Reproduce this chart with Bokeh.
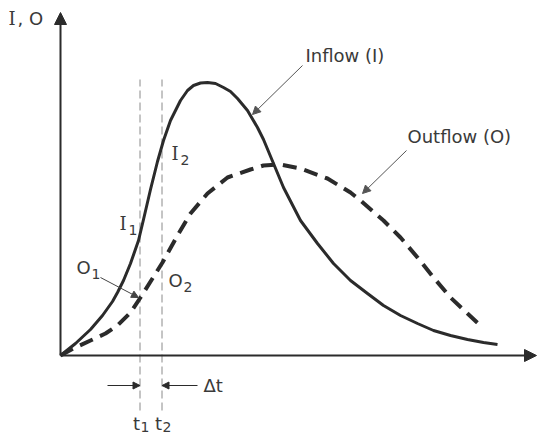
from bokeh.plotting import figure
from bokeh.models import Range1d, Arrow, NormalHead, Label
from bokeh.embed import file_html
from bokeh.resources import INLINE

# Hydrograph data (time units, flow units)
inflow_t = [0, 15, 30, 42, 52, 57, 63, 70, 78, 83, 90, 97, 103, 110, 120, 127, 133,
            140, 147, 155, 163, 170, 177, 187, 197, 203, 213, 223, 240, 257, 273,
            290, 307, 323, 340, 357, 373, 390, 407, 423, 437]
inflow_q = [0, 12, 26, 40, 54, 63, 75, 92, 115, 136, 166, 194, 215, 235, 255, 265, 270,
            272.5, 273, 272, 268, 264, 257, 245, 228, 216, 192, 168, 135, 112, 92,
            75, 62, 50, 40, 32, 25, 20, 16, 13, 11]

outflow_t = [0, 13, 30, 45, 57, 70, 80, 102, 117, 130, 147, 167, 190, 203, 220, 240,
             267, 290, 300, 323, 340, 357, 373, 390, 407, 422]
outflow_q = [0, 7, 15, 22, 30, 43, 58, 93, 120, 142, 162, 178, 186, 190, 191, 187,
             177, 163, 155, 135, 118, 98, 78, 58, 42, 28]

time_marks = [79.5, 101.5]          # t1, t2
mark_labels = ["1", "2"]

INK = "#2b2b2b"
TXT = "#3a3a3a"
FONT = "DejaVu Sans"
SERIF = "DejaVu Serif"

p = figure(width=538, height=439, output_backend="svg", toolbar_location=None,
           x_range=Range1d(-60, 478), y_range=Range1d(-84, 355),
           x_axis_location=None, y_axis_location=None,
           min_border=0, min_border_left=0, min_border_right=0,
           min_border_top=0, min_border_bottom=0)
p.grid.visible = False
p.outline_line_color = None
p.background_fill_color = "white"
p.border_fill_color = "white"

# axes with arrowheads
p.add_layout(Arrow(end=NormalHead(size=12, fill_color=INK, line_color=INK),
                   x_start=0, y_start=0, x_end=0, y_end=343,
                   line_color=INK, line_width=2))
p.add_layout(Arrow(end=NormalHead(size=12, fill_color=INK, line_color=INK),
                   x_start=0, y_start=0, x_end=476, y_end=0,
                   line_color=INK, line_width=2))

# time marks (thin dashed verticals)
for tm in time_marks:
    p.line([tm, tm], [-55, 276], line_color="#8a8a8a", line_width=1, line_dash="8 4")

# curves
p.line(inflow_t, inflow_q, line_color=INK, line_width=3, line_join="round")
p.line(outflow_t, outflow_q, line_color=INK, line_width=4, line_dash="14 8")

def txt(x, y, s, size=18, align="left", font=FONT):
    p.add_layout(Label(x=x, y=y, text=s, text_font=font, text_font_size=f"{size}px",
                       text_color=TXT, text_align=align, text_baseline="middle"))

# axis label
txt(-52, 337, "I", font=SERIF)
txt(-43, 337, ", O")

# leader annotations
p.add_layout(Arrow(end=NormalHead(size=8, fill_color="#555", line_color="#555"),
                   x_start=242, y_start=290, x_end=192, y_end=241,
                   line_color="#555", line_width=1))
txt(245, 300, "Inflow (I)")
p.add_layout(Arrow(end=NormalHead(size=8, fill_color="#555", line_color="#555"),
                   x_start=346, y_start=205, x_end=302, y_end=162,
                   line_color="#555", line_width=1))
txt(347, 219, "Outflow (O)")

# point labels with subscripts
def sub_label(x, y, main, sub):
    if main == "I":
        txt(x, y, main, 18, font=SERIF)
        txt(x + 9, y - 6, sub, 14)
    else:
        txt(x, y, main, 18)
        txt(x + 15, y - 6, sub, 14)

sub_label(59, 132, "I", "1")
sub_label(111, 202, "I", "2")
sub_label(16, 88, "O", "1")
sub_label(108, 75, "O", "2")

# O1 pointer
p.add_layout(Arrow(end=NormalHead(size=7, fill_color="#444", line_color="#444"),
                   x_start=40, y_start=78, x_end=78, y_end=58,
                   line_color="#444", line_width=1))

# delta t arrows
p.add_layout(Arrow(end=NormalHead(size=7, fill_color=INK, line_color=INK),
                   x_start=47, y_start=-30, x_end=time_marks[0], y_end=-30,
                   line_color=INK, line_width=1))
p.add_layout(Arrow(end=NormalHead(size=7, fill_color=INK, line_color=INK),
                   x_start=137, y_start=-30, x_end=time_marks[1], y_end=-30,
                   line_color=INK, line_width=1))
txt(143, -30, "\u0394t")

# t1, t2 labels
for tm, lab in zip(time_marks, mark_labels):
    txt(tm - 7, -68, "t", 18)
    txt(tm + 0.5, -71, lab, 14)

open("out.html", "w").write(file_html(p, INLINE))
